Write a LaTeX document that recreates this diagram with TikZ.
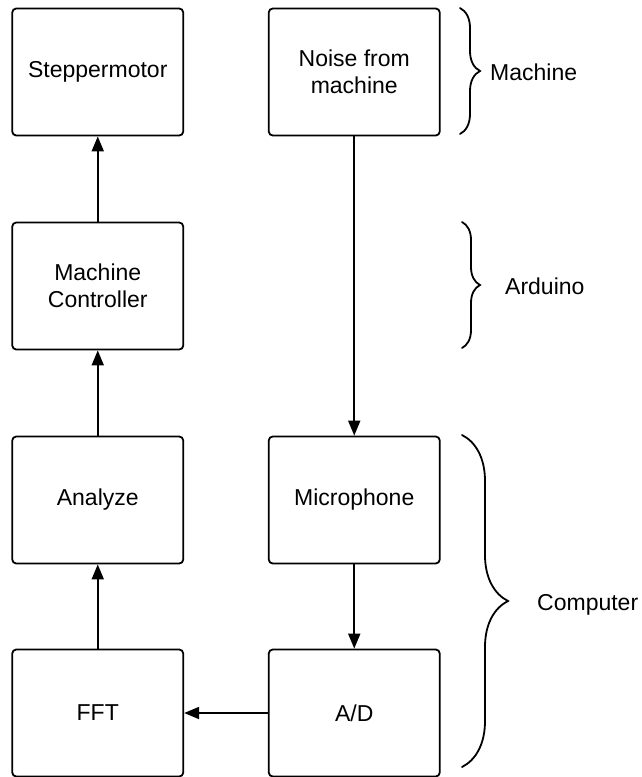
\documentclass[tikz,border=0pt]{standalone}
\usepackage{fontspec}
\setmainfont{Liberation Sans}
\usetikzlibrary{arrows.meta,decorations.pathreplacing}

\tikzset{
  block/.style={draw=black, line width=1.8pt, rounded corners=4pt,
    minimum width=171pt, minimum height=127pt, align=center,
    inner sep=0pt, font=\fontsize{23}{27.5}\selectfont},
  flow/.style={line width=1.8pt, -{Triangle[length=15pt,width=12pt]}},
  groupbrace/.style={line width=1.8pt, line cap=round,
    decorate, decoration={brace, amplitude=#1}},
  grouplabel/.style={anchor=west, inner sep=0pt,
    font=\fontsize{23}{27.5}\selectfont}
}

\begin{document}
\begin{tikzpicture}[x=1pt, y=-1pt]
  \useasboundingbox (0,0) rectangle (641,777);

  % left column
  \node[block] (stepper) at (97.75,72)  {Steppermotor};
  \node[block] (ctrl)    at (97.75,286) {Machine\\Controller};
  \node[block] (analyze) at (97.75,500) {Analyze};
  \node[block] (fft)     at (97.75,713) {FFT};

  % right column
  \node[block] (noise) at (354.25,72)  {Noise from\\machine};
  \node[block] (mic)   at (354.25,500) {Microphone};
  \node[block] (ad)    at (354.25,713) {A/D};

  % signal flow
  \draw[flow] (noise) -- (mic);
  \draw[flow] (mic) -- (ad);
  \draw[flow] (ad) -- (fft);
  \draw[flow] (fft) -- (analyze);
  \draw[flow] (analyze) -- (ctrl);
  \draw[flow] (ctrl) -- (stepper);

  % grouping braces
  \coordinate (mTop) at (460,8);
  \coordinate (mBot) at (460,134);
  \coordinate (aTop) at (462,222);
  \coordinate (aBot) at (462,348);
  \coordinate (cTop) at (462,435);
  \coordinate (cBot) at (462,767);
  \draw[groupbrace=20pt] (mTop) -- (mBot);
  \draw[groupbrace=18pt] (aTop) -- (aBot);
  \draw[groupbrace=46pt] (cTop) -- (cBot);

  \node[grouplabel] (lMachine)  at (490,72)  {Machine};
  \node[grouplabel] (lArduino)  at (505,286) {Arduino};
  \node[grouplabel] (lComputer) at (537,605) {Computer};
\end{tikzpicture}
\end{document}
